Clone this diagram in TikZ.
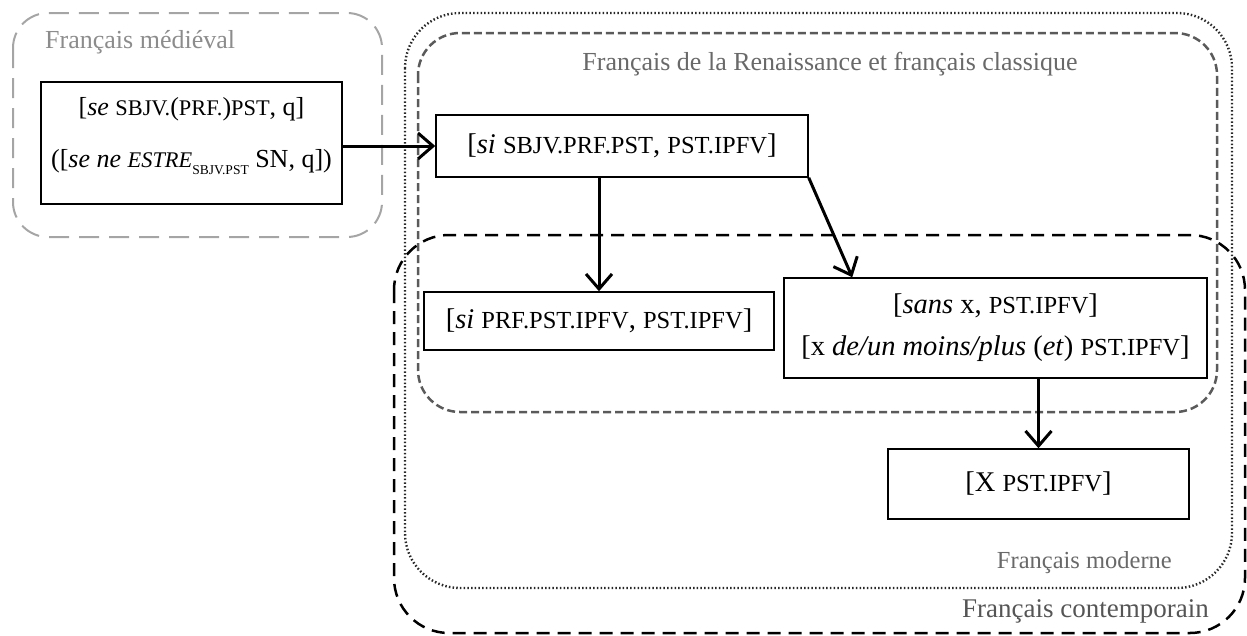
\documentclass[tikz,border=0pt]{standalone}
\usepackage{fontspec}
\setmainfont{Liberation Serif}
\usetikzlibrary{arrows.meta,calc}
\makeatletter
\newcommand\gl[1]{{\fontsize{\fpeval{0.86*\f@size}}{\f@baselineskip}\selectfont #1}}
\newcommand\subgl[1]{{\fontsize{\fpeval{0.52*\f@size}}{\f@baselineskip}\selectfont #1}}
\makeatother
\definecolor{medgray}{RGB}{165,165,165}
\definecolor{rengray}{RGB}{90,90,90}
\definecolor{modgray}{RGB}{40,40,40}
\definecolor{lblA}{RGB}{140,140,140}
\definecolor{lblB}{RGB}{105,105,105}
\definecolor{lblC}{RGB}{105,105,105}
\definecolor{lblD}{RGB}{85,85,85}
\tikzset{
  boxnode/.style={draw, line width=1.5pt, fill=white, inner sep=0pt, align=center,
    font=\fontsize{28.5}{42}\selectfont},
  lbl/.style={inner sep=0pt, font=\fontsize{26}{30}\selectfont},
  arr/.style={line width=3pt, -{Straight Barb[length=15pt,width=26pt]}},
  medframe/.style={draw=medgray, line width=2pt, dash pattern=on 20pt off 10pt, rounded corners=35pt},
  renframe/.style={draw=rengray, line width=2.5pt, dash pattern=on 8pt off 4pt, rounded corners=42pt},
  modframe/.style={draw=modgray, line width=2.4pt, dash pattern=on 1.5pt off 2.2pt, rounded corners=55pt},
  conframe/.style={draw=black, line width=2.5pt, dash pattern=on 13pt off 8pt, rounded corners=55pt},
}
\begin{document}
\begin{tikzpicture}[x=1pt,y=-1pt]
\useasboundingbox (0,0) rectangle (1247,635);
% frames
\draw[medframe] (13,13) rectangle (382,237);
\draw[modframe] (405,13) rectangle (1232,588);
\draw[renframe] (418,33) rectangle (1217,412);
\draw[conframe] (394,235) rectangle (1245,633);
% labels
\node[lbl, text=lblA, anchor=base west] (lmed) at (45,48) {Français médiéval};
\node[lbl, text=lblB, anchor=base] (lren) at (830,70) {Français de la Renaissance et français classique};
\node[lbl, text=lblC, anchor=base east, font=\fontsize{24.5}{28}\selectfont] (lmod) at (1172,568) {Français moderne};
\node[lbl, text=lblD, anchor=base east, font=\fontsize{27}{30}\selectfont] (lcon) at (1209,617) {Français contemporain};
% boxes
\node[boxnode, minimum width=301pt, minimum height=122pt] (b1) at (191.5,143) {};
\node[inner sep=0pt, align=center, font=\fontsize{26}{52}\selectfont] (b1t) at ($(b1.center)+(0,-7)$)
  {[\textit{se} \gl{SBJV.}(\gl{PRF.})\gl{PST}, q]\\
   ([\textit{se ne} \textit{\gl{ESTRE}}\raisebox{-0.3em}{\subgl{SBJV.PST}} SN, q])};
\node[boxnode, minimum width=372pt, minimum height=62pt] (b2) at (622,146)
  {[\textit{si} \gl{SBJV.PRF.PST}, \gl{PST.IPFV}]};
\node[boxnode, minimum width=350pt, minimum height=58pt] (b3) at (599,321)
  {[\textit{si} \gl{PRF.PST.IPFV}, \gl{PST.IPFV}]};
\node[boxnode, minimum width=423pt, minimum height=100pt] (b4) at (995.5,328)
  {[\textit{sans} x, \gl{PST.IPFV}]\\{}%
   [x \textit{de/un moins/plus} (\textit{et}) \gl{PST.IPFV}]};
\node[boxnode, minimum width=301pt, minimum height=70pt] (b5) at (1038.5,484)
  {[X \gl{PST.IPFV}]};
% arrows
\draw[arr] (b1.east |- b2.west) -- (b2.west);
\draw[arr] (b3.north |- b2.south) -- (b3.north);
\draw[arr] (b2.south east) -- ($(b4.north west)+(69,0)$);
\draw[arr] (b5.north |- b4.south) -- (b5.north);
\end{tikzpicture}
\end{document}
